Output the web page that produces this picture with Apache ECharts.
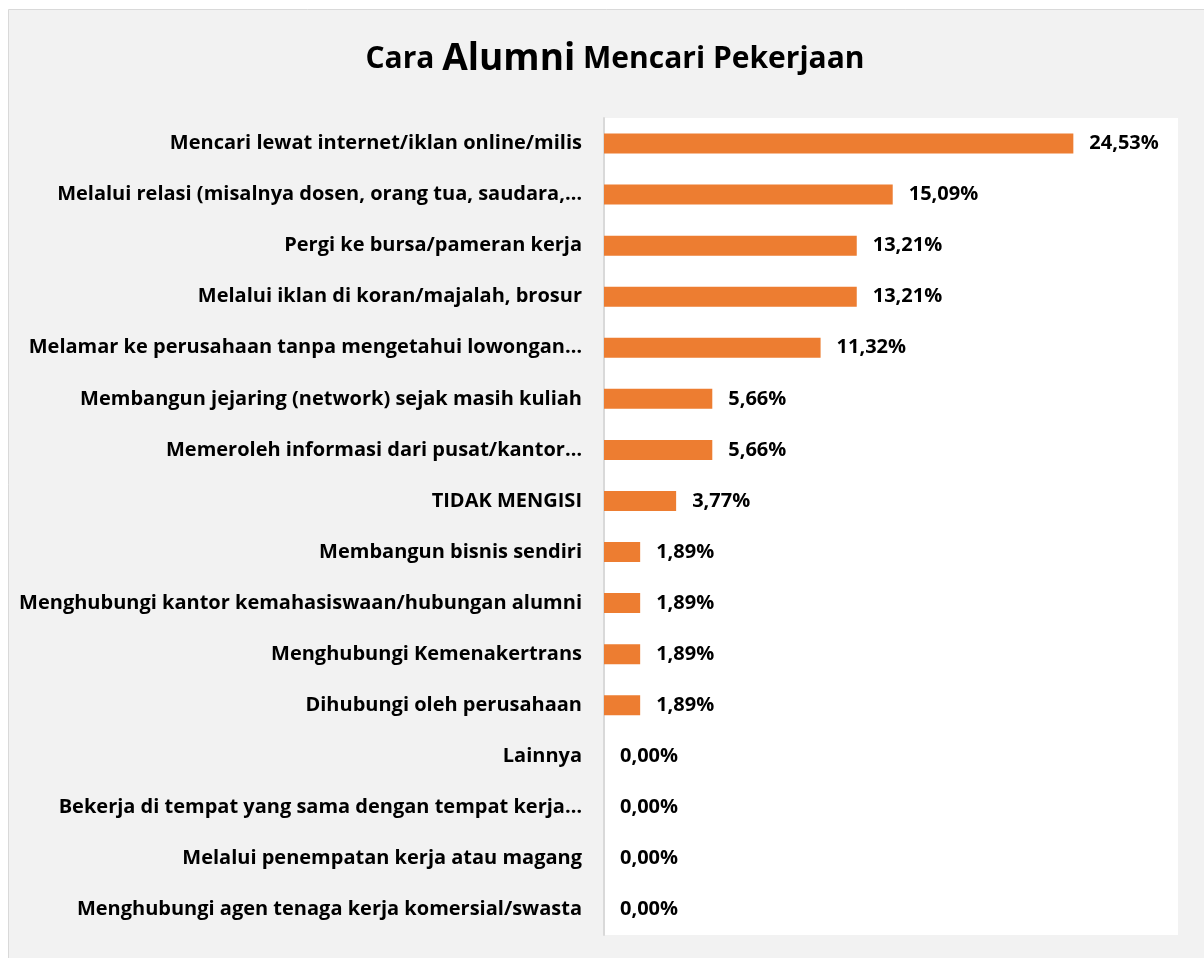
<!DOCTYPE html>
<html>
<head>
<meta charset="utf-8">
<script src="https://cdn.jsdelivr.net/npm/echarts@6/dist/echarts.min.js"></script>
<style>
  html, body { margin: 0; padding: 0; background: #fff; }
  #chart { width: 1204px; height: 958px; }
</style>
</head>
<body>
<div id="chart"></div>
<script>
// kategori (urutan dari atas ke bawah)
const categories = [
  "Mencari lewat internet/iklan online/milis",
  "Melalui relasi (misalnya dosen, orang tua, saudara,…",
  "Pergi ke bursa/pameran kerja",
  "Melalui iklan di koran/majalah, brosur",
  "Melamar ke perusahaan tanpa mengetahui lowongan…",
  "Membangun jejaring (network) sejak masih kuliah",
  "Memeroleh informasi dari pusat/kantor…",
  "TIDAK MENGISI",
  "Membangun bisnis sendiri",
  "Menghubungi kantor kemahasiswaan/hubungan alumni",
  "Menghubungi Kemenakertrans",
  "Dihubungi oleh perusahaan",
  "Lainnya",
  "Bekerja di tempat yang sama dengan tempat kerja…",
  "Melalui penempatan kerja atau magang",
  "Menghubungi agen tenaga kerja komersial/swasta",
];
const persen = [24.53, 15.09, 13.21, 13.21, 11.32, 5.66, 5.66, 3.77, 1.89, 1.89, 1.89, 1.89, 0, 0, 0, 0];

const fontFam = "'Open Sans', sans-serif";

const chart = echarts.init(document.getElementById("chart"));
chart.setOption({
  backgroundColor: "#fff",
  animation: false,
  graphic: [
    {
      type: "rect",
      z: -10,
      shape: { x: 8.5, y: 9.5, width: 1210, height: 960 },
      style: { fill: "#f2f2f2", stroke: "#d9d9d9", lineWidth: 1 },
    },
  ],
  title: {
    text: "{a|Cara }{b|Alumni}{a| Mencari Pekerjaan}",
    left: 610,
    top: 36,
    textAlign: "center",
    textStyle: {
      rich: {
        a: { fontFamily: fontFam, fontSize: 30, fontWeight: "bold", color: "#000" },
        b: { fontFamily: fontFam, fontSize: 37, fontWeight: "bold", color: "#000" },
      },
    },
  },
  grid: {
    left: 604,
    top: 118,
    width: 574,
    height: 817,
    show: true,
    backgroundColor: "#fff",
    borderWidth: 0,
  },
  xAxis: {
    type: "value",
    min: 0,
    max: 30,
    show: false,
  },
  yAxis: {
    type: "category",
    data: categories,
    inverse: true,
    axisLine: { show: true, lineStyle: { color: "#d9d9d9", width: 2 } },
    axisTick: { show: false },
    axisLabel: {
      margin: 22,
      padding: [4, 0, 0, 0],
      color: "#000",
      fontFamily: fontFam,
      fontWeight: "bold",
      fontSize: 20,
    },
  },
  series: [
    {
      type: "bar",
      data: persen,
      barWidth: 20,
      itemStyle: { color: "#ED7D31" },
      label: {
        show: true,
        position: "right",
        distance: 16,
        padding: [4, 0, 0, 0],
        color: "#000",
        fontFamily: fontFam,
        fontWeight: "bold",
        fontSize: 20,
        formatter: (p) => p.value.toFixed(2).replace(".", ",") + "%",
      },
    },
  ],
});
</script>
</body>
</html>
